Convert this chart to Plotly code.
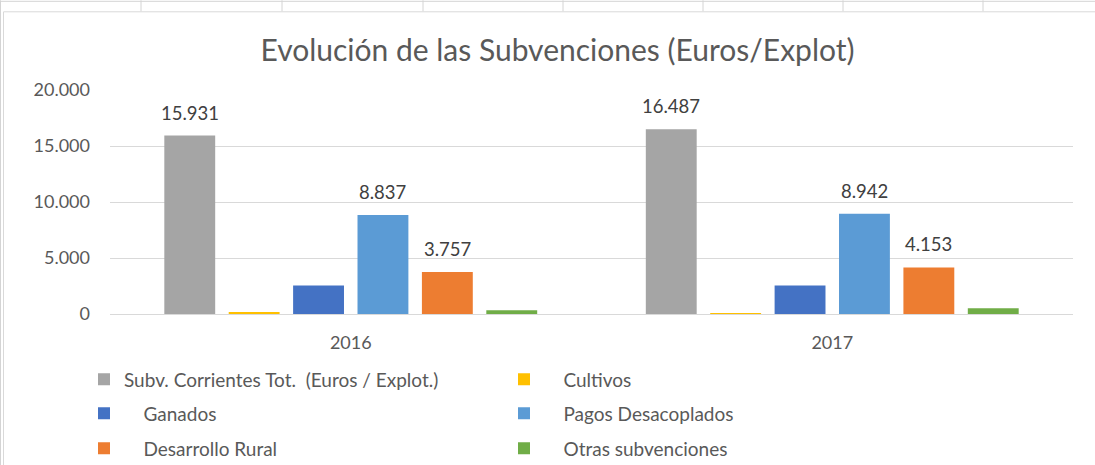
import plotly.graph_objects as go

years = ["2016", "2017"]
series_names = [
    "Subv. Corrientes Tot.  (Euros / Explot.)",
    "Cultivos",
    "Ganados",
    "Pagos Desacoplados",
    "Desarrollo Rural",
    "Otras subvenciones",
]
subv_total = [15931, 16487]
cultivos = [170, 40]
ganados = [2540, 2545]
pagos_desacoplados = [8837, 8942]
desarrollo_rural = [3757, 4153]
otras = [340, 520]
series_values = [subv_total, cultivos, ganados, pagos_desacoplados, desarrollo_rural, otras]
colors = ["#A5A5A5", "#FFC000", "#4472C4", "#5B9BD5", "#ED7D31", "#70AD47"]
labelled = [True, False, False, True, True, False]
y_ticks = [0, 5000, 10000, 15000, 20000]

FONT = "Lato"
NB = "\u00a0" * 4

# plot-area geometry in pixels (for decorative sheet grid + legend placement)
W, H = 1095, 465
L, R, T, B = 110, 1073, 89.7, 313.7
def fx(px):
    return (px - L) / (R - L)
def fy(py):
    return (B - py) / (B - T)

bargap = 0.1975
bargroupgap = 0.21
slot = (1 - bargap) / len(series_names)

fig = go.Figure()
legend_ids = ["legend", "legend", "legend2", "legend2", "legend3", "legend3"]
for i, (name, vals, col) in enumerate(zip(series_names, series_values, colors)):
    fig.add_trace(go.Bar(
        x=years, y=vals, name=(name if i == 0 else NB + name),
        marker=dict(color=col, line=dict(width=0)),
        legend=legend_ids[i], hoverinfo="x+y+name",
    ))
    if labelled[i]:
        for c, v in enumerate(vals):
            fig.add_annotation(
                x=c + (i - (len(series_names) - 1) / 2) * slot, y=v,
                xref="x", yref="y", text=f"{v:,.0f}".replace(",", "."),
                showarrow=False, yanchor="bottom", yshift=10,
                font=dict(family=FONT, size=18.5, color="#404040"),
            )

leg_common = dict(orientation="h", entrywidth=375, xanchor="left", yanchor="middle",
                  font=dict(family=FONT, size=19, color="#595959"),
                  bgcolor="rgba(0,0,0,0)", borderwidth=0, itemclick=False)

shapes = []
grid_col = "#d4d4d4"
# spreadsheet grid at top
for px in [141, 282, 423, 563, 703, 843, 983]:
    shapes.append(dict(type="line", xref="paper", yref="paper", x0=fx(px), x1=fx(px),
                       y0=fy(0), y1=fy(11), line=dict(color=grid_col, width=1)))
shapes.append(dict(type="line", xref="paper", yref="paper", x0=fx(0), x1=fx(W),
                   y0=fy(1), y1=fy(1), line=dict(color=grid_col, width=1)))
shapes.append(dict(type="line", xref="paper", yref="paper", x0=fx(0.5), x1=fx(0.5),
                   y0=fy(0), y1=fy(H), line=dict(color=grid_col, width=1)))
# chart border
shapes.append(dict(type="line", xref="paper", yref="paper", x0=fx(3.5), x1=fx(W + 5),
                   y0=fy(11.5), y1=fy(11.5), line=dict(color="#d9d9d9", width=1)))
shapes.append(dict(type="line", xref="paper", yref="paper", x0=fx(3.5), x1=fx(3.5),
                   y0=fy(11.5), y1=fy(H + 5), line=dict(color="#d9d9d9", width=1)))

fig.update_layout(
    width=W, height=H,
    margin=dict(l=L, r=W - R, t=T, b=H - B, autoexpand=False),
    paper_bgcolor="white", plot_bgcolor="white",
    separators=",.",
    barmode="group", bargap=bargap, bargroupgap=bargroupgap,
    title=dict(text="Evolución de las Subvenciones (Euros/Explot)", x=557.5 / W, xref="container",
               xanchor="center", y=1 - 50 / H, yanchor="middle",
               font=dict(family=FONT, size=30, color="#595959")),
    font=dict(family=FONT, size=18, color="#595959"),
    xaxis=dict(showgrid=False, showline=True, linecolor="#d9d9d9", linewidth=1,
               ticks="", ticklabelstandoff=12,
               tickfont=dict(family=FONT, size=18, color="#595959")),
    yaxis=dict(range=[0, 20000], tickvals=y_ticks, tickformat=",.0f",
               showgrid=True, gridcolor="#d9d9d9", gridwidth=1, zeroline=False,
               showline=False, ticks="", ticklabelstandoff=19,
               tickfont=dict(family=FONT, size=18, color="#595959")),
    legend=dict(x=fx(84), y=fy(379), **leg_common),
    legend2=dict(x=fx(84), y=fy(413), **leg_common),
    legend3=dict(x=fx(84), y=fy(448), **leg_common),
    shapes=shapes,
    showlegend=True,
)

fig.write_html("out.html", config={"displayModeBar": False},
               post_script="document.body.style.margin='0';document.body.style.overflow='hidden';")
